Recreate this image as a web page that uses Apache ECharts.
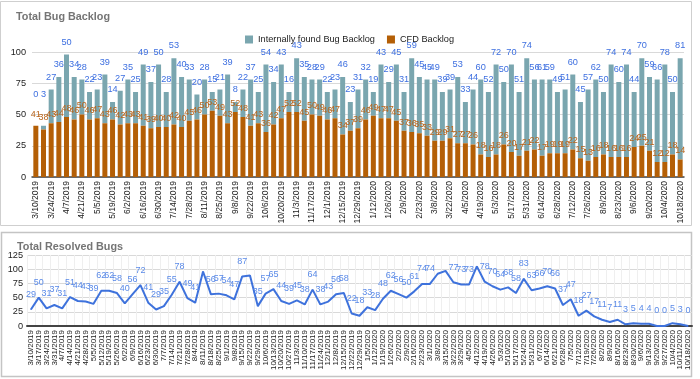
<!DOCTYPE html>
<html><head><meta charset="utf-8">
<script src="https://cdn.jsdelivr.net/npm/echarts@6/dist/echarts.min.js"></script>
<style>html,body{margin:0;padding:0;background:#fff}#c{width:700px;height:379px}</style>
</head><body><div id="c"></div>
<script>
const weeks = [
"3/10/2019","3/17/2019","3/24/2019","3/31/2019","4/7/2019","4/14/2019","4/21/2019","4/28/2019","5/5/2019","5/12/2019",
"5/19/2019","5/26/2019","6/2/2019","6/9/2019","6/16/2019","6/23/2019","6/30/2019","7/7/2019","7/14/2019","7/21/2019",
"7/28/2019","8/4/2019","8/11/2019","8/18/2019","8/25/2019","9/1/2019","9/8/2019","9/15/2019","9/22/2019","9/29/2019",
"10/6/2019","10/13/2019","10/20/2019","10/27/2019","11/3/2019","11/10/2019","11/17/2019","11/24/2019","12/1/2019","12/8/2019",
"12/15/2019","12/22/2019","12/29/2019","1/5/2020","1/12/2020","1/19/2020","1/26/2020","2/2/2020","2/9/2020","2/16/2020",
"2/23/2020","3/1/2020","3/8/2020","3/15/2020","3/22/2020","3/29/2020","4/5/2020","4/12/2020","4/19/2020","4/26/2020",
"5/3/2020","5/10/2020","5/17/2020","5/24/2020","5/31/2020","6/7/2020","6/14/2020","6/21/2020","6/28/2020","7/5/2020",
"7/12/2020","7/19/2020","7/26/2020","8/2/2020","8/9/2020","8/16/2020","8/23/2020","8/30/2020","9/6/2020","9/13/2020",
"9/20/2020","9/27/2020","10/4/2020","10/11/2020","10/18/2020"];

const cfdBacklog = [
41,38,43,44,48,46,50,46,47,43,
46,42,43,43,41,39,40,40,42,40,
45,46,50,53,49,43,52,48,41,43,
36,42,47,52,52,45,50,49,46,47,
34,37,39,46,49,47,47,45,37,36,
35,33,29,29,31,27,27,26,18,16,
18,26,20,17,21,22,17,19,19,19,
22,15,13,16,18,16,16,16,24,25,
21,12,12,18,14];

const internalBacklog = [
0,3,27,36,50,34,28,22,23,39,
14,27,35,25,49,37,50,28,53,40,
33,20,28,15,21,39,8,22,37,25,
54,34,43,16,43,35,28,29,22,23,
46,23,31,32,19,43,29,45,31,59,
45,45,49,39,39,53,33,44,60,52,
72,50,70,51,74,56,61,59,49,51,
60,45,57,62,50,74,60,74,44,70,
59,66,78,50,81];

const resolvedBugs = [
29,50,31,37,31,51,44,43,39,62,
62,58,40,56,72,41,29,35,55,78,
49,41,96,56,57,54,47,87,89,35,
57,65,44,39,45,38,64,38,43,56,
58,22,18,33,28,48,62,56,50,61,
74,74,92,97,77,73,73,105,78,70,
64,68,58,83,63,66,70,66,37,47,
18,27,17,11,7,11,3,5,4,4,
0,0,5,3,0];

const backlogAxis = {min: 0, max: 100, interval: 25};
const resolvedAxis = {min: 0, max: 125, interval: 25};

const FONT = 'Arial, "Liberation Sans", sans-serif';
const TEAL = '#7aa6af', BROWN = '#b45f06';
const BLUE_LBL = '#3d6fe0', BROWN_LBL = '#b9651c';
const LINE_BLUE = '#3e72dc', LINE_LBL = '#5a8ae8';

const G1 = {left: 32, right: 16, top: 52, height: 125};
const G2 = {left: 27, right: 8, top: 255, height: 71};

const cfdData = cfdBacklog.map((v, i) => {
  const small = internalBacklog[i] < 5;
  return {value: v, label: small ? {distance: 7} : {}};
});
const internalData = internalBacklog.map((v) => {
  const small = v < 5;
  return {value: v, label: small ? {distance: 27} : {}};
});
// labels that would rise above the plot area are not drawn (as in the source)
const labelRoom = 21;
const resolvedData = resolvedBugs.map(v => {
  const py = (v - resolvedAxis.min) / (resolvedAxis.max - resolvedAxis.min) * G2.height;
  return {value: v, label: {show: py + labelRoom <= G2.height}};
});

const chart = echarts.init(document.getElementById('c'), null, {renderer: 'canvas'});
chart.setOption({
  animation: false,
  textStyle: {fontFamily: FONT},
  title: [
    {text: 'Total Bug Backlog', left: 11, top: 7, textStyle: {fontFamily: FONT, fontSize: 10.8, fontWeight: 'bold', color: '#757575'}},
    {text: 'Total Resolved Bugs', left: 12, top: 237, textStyle: {fontFamily: FONT, fontSize: 10.8, fontWeight: 'bold', color: '#757575'}}
  ],
  legend: {
    data: ['Internally found Bug Backlog', 'CFD Backlog'],
    left: 240, top: 30, itemWidth: 8, itemHeight: 8, itemGap: 12, icon: 'rect',
    textStyle: {fontFamily: FONT, fontSize: 9.2, color: '#222'}
  },
  graphic: [
    {type: 'rect', shape: {x: 0.5, y: 1.5, width: 691, height: 224}, style: {fill: 'none', stroke: '#cfcfcf', lineWidth: 1}, silent: true},
    {type: 'rect', shape: {x: 1.5, y: 232.5, width: 690, height: 144}, style: {fill: 'none', stroke: '#c4c4c4', lineWidth: 1.5}, silent: true}
  ],
  grid: [
    {left: G1.left, right: G1.right, top: G1.top, height: G1.height},
    {left: G2.left, right: G2.right, top: G2.top, height: G2.height}
  ],
  xAxis: [
    {type: 'category', gridIndex: 0, data: weeks,
     axisLine: {lineStyle: {color: '#444', width: 1.5}}, axisTick: {show: false},
     axisLabel: {rotate: 90, interval: 1, fontSize: 8.5, color: '#222', margin: 4, fontFamily: FONT}},
    {type: 'category', gridIndex: 1, data: weeks,
     axisLine: {lineStyle: {color: '#444', width: 2}}, axisTick: {show: false},
     splitLine: {show: true, interval: 0, lineStyle: {color: '#efefef'}},
     axisLabel: {rotate: 90, interval: 0, fontSize: 8, color: '#222', margin: 4, fontFamily: FONT}}
  ],
  yAxis: [
    {type: 'value', gridIndex: 0, min: backlogAxis.min, max: backlogAxis.max, interval: backlogAxis.interval,
     axisLine: {show: false}, axisTick: {show: false},
     splitLine: {lineStyle: {color: '#d9d9d9'}},
     axisLabel: {fontSize: 9.2, color: '#222', margin: 6, fontFamily: FONT}},
    {type: 'value', gridIndex: 1, min: resolvedAxis.min, max: resolvedAxis.max, interval: resolvedAxis.interval,
     axisLine: {show: false}, axisTick: {show: false},
     splitLine: {lineStyle: {color: '#d9d9d9'}},
     axisLabel: {fontSize: 9.2, color: '#222', margin: 4, fontFamily: FONT}}
  ],
  series: [
    {name: 'CFD Backlog', type: 'bar', stack: 'b', xAxisIndex: 0, yAxisIndex: 0,
     barWidth: 5, itemStyle: {color: BROWN}, data: cfdData, z: 3,
     label: {show: true, position: 'top', distance: 4, fontSize: 9, color: BROWN_LBL, fontFamily: FONT}},
    {name: 'Internally found Bug Backlog', type: 'bar', stack: 'b', xAxisIndex: 0, yAxisIndex: 0,
     barWidth: 5, itemStyle: {color: TEAL}, data: internalData, z: 1,
     label: {show: true, position: 'top', distance: 8, fontSize: 9.2, color: BLUE_LBL, fontFamily: FONT}},
    {name: 'Total Resolved Bugs', type: 'line', xAxisIndex: 1, yAxisIndex: 1,
     data: resolvedData, symbol: 'circle', symbolSize: 1, showSymbol: true,
     lineStyle: {color: LINE_BLUE, width: 2}, itemStyle: {color: LINE_BLUE},
     label: {show: true, position: 'top', distance: 10, fontSize: 9, color: LINE_LBL, fontFamily: FONT}}
  ]
});
</script>
</body></html>
